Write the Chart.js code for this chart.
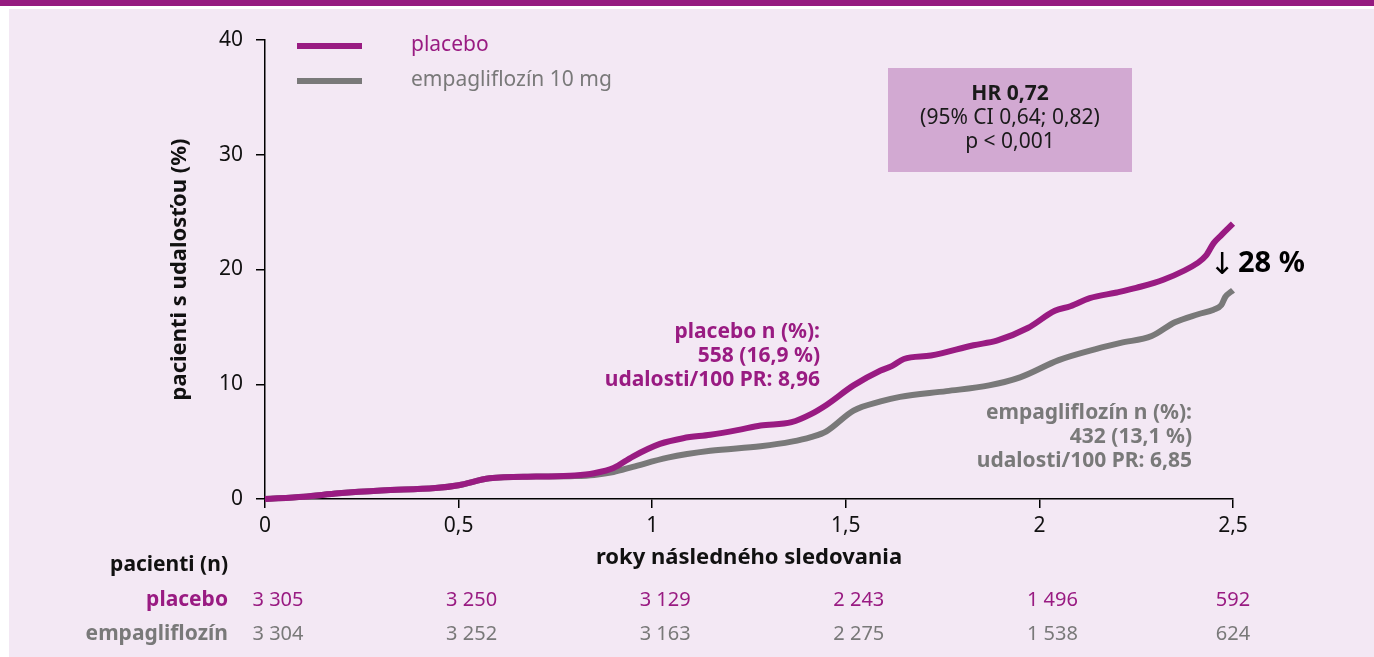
<!DOCTYPE html>
<html>
<head>
<meta charset="utf-8">
<script src="https://cdn.jsdelivr.net/npm/chart.js@4/dist/chart.umd.min.js"></script>
<style>
  html, body { margin: 0; padding: 0; background: #fff; }
  #wrap { position: relative; width: 1374px; height: 657px; overflow: hidden; }
  #topbar { position: absolute; left: 0; top: 0; width: 1374px; height: 6px; background: #961b80; }
  #panel { position: absolute; left: 9px; top: 9px; right: 0; bottom: 0; background: #f3e8f4; }
  #c { position: absolute; left: 0; top: 0; }
</style>
</head>
<body>
<div id="wrap">
  <div id="topbar"></div>
  <div id="panel"></div>
  <canvas id="c" width="1374" height="657"></canvas>
</div>
<script>
// roky sledovania / kumulatívny podiel pacientov s udalosťou (%)
const placeboT = [0, 0.1, 0.19, 0.3, 0.44, 0.5, 0.58, 0.7, 0.8, 0.85, 0.9, 0.95, 1.02, 1.08, 1.15, 1.22, 1.28, 1.36, 1.41, 1.45, 1.52, 1.59, 1.62, 1.65, 1.72, 1.83, 1.89, 1.97, 2.04, 2.08, 2.13, 2.2, 2.25, 2.32, 2.41, 2.43, 2.45, 2.47, 2.5];
const placeboY = [0, 0.2, 0.5, 0.75, 0.95, 1.2, 1.8, 1.95, 2.05, 2.25, 2.7, 3.7, 4.8, 5.3, 5.6, 6.0, 6.4, 6.7, 7.4, 8.2, 9.9, 11.2, 11.6, 12.2, 12.5, 13.4, 13.8, 14.9, 16.4, 16.8, 17.5, 18.0, 18.4, 19.1, 20.6, 21.2, 22.3, 23.0, 24.0];
const empaT = [0, 0.1, 0.19, 0.3, 0.44, 0.5, 0.58, 0.7, 0.8, 0.85, 0.9, 0.95, 1.04, 1.15, 1.28, 1.36, 1.41, 1.45, 1.52, 1.59, 1.64, 1.76, 1.87, 1.95, 2.05, 2.15, 2.21, 2.29, 2.35, 2.41, 2.45, 2.47, 2.48, 2.5];
const empaY = [0, 0.2, 0.5, 0.75, 0.95, 1.2, 1.8, 1.95, 2.0, 2.1, 2.35, 2.8, 3.6, 4.2, 4.6, 5.0, 5.4, 5.9, 7.7, 8.5, 8.9, 9.4, 9.9, 10.6, 12.1, 13.1, 13.6, 14.2, 15.4, 16.1, 16.5, 16.9, 17.6, 18.2];

const xTicks = [0, 0.5, 1, 1.5, 2, 2.5];
const yTicks = [0, 10, 20, 30, 40];

// pacienti v riziku
const riskTimes = [0, 0.5, 1, 1.5, 2, 2.5];
const riskPlacebo = ["3 305", "3 250", "3 129", "2 243", "1 496", "592"];
const riskEmpa = ["3 304", "3 252", "3 163", "2 275", "1 538", "624"];

const PURPLE = "#991b82";
const GRAY = "#797979";
const FONT = "'Noto Sans', 'Open Sans', sans-serif";

Chart.defaults.font.family = FONT;
Chart.defaults.color = "#111";

function toPoints(ts, ys) {
  return ts.map((t, i) => ({ x: t, y: ys[i] }));
}

// texty, legenda, tabuľka rizika
const extras = {
  id: "extras",
  afterDraw(chart) {
    const ctx = chart.ctx;
    const xs = chart.scales.x;
    const area = chart.chartArea;
    ctx.save();

    // legenda
    ctx.lineWidth = 6;
    ctx.strokeStyle = PURPLE;
    ctx.beginPath(); ctx.moveTo(297, 46); ctx.lineTo(362, 46); ctx.stroke();
    ctx.strokeStyle = GRAY;
    ctx.beginPath(); ctx.moveTo(297, 81); ctx.lineTo(362, 81); ctx.stroke();
    ctx.font = "21px " + FONT;
    ctx.textAlign = "left";
    ctx.textBaseline = "middle";
    ctx.fillStyle = PURPLE;
    ctx.fillText("placebo", 411, 45);
    ctx.fillStyle = GRAY;
    ctx.fillText("empagliflozín 10 mg", 411, 80);

    // HR box
    ctx.fillStyle = "#d2a9d2";
    ctx.fillRect(888, 68, 244, 104);
    ctx.fillStyle = "#1a1a1a";
    ctx.textAlign = "center";
    ctx.font = "bold 21px " + FONT;
    ctx.fillText("HR 0,72", 1010, 94);
    ctx.font = "21px " + FONT;
    ctx.fillText("(95% CI 0,64; 0,82)", 1010, 118);
    ctx.fillText("p < 0,001", 1010, 142);

    // 28 %
    ctx.fillStyle = "#000";
    ctx.font = "30px 'DejaVu Sans', sans-serif";
    ctx.fillText("↓", 1222, 266);
    ctx.font = "bold 29px " + FONT;
    ctx.textAlign = "left";
    ctx.fillText("28 %", 1238, 264);

    // popisy kriviek
    ctx.textAlign = "right";
    ctx.font = "bold 21px " + FONT;
    ctx.fillStyle = PURPLE;
    ctx.fillText("placebo n (%):", 820, 332);
    ctx.fillText("558 (16,9 %)", 820, 356);
    ctx.fillText("udalosti/100 PR: 8,96", 820, 380);
    ctx.fillStyle = GRAY;
    ctx.fillText("empagliflozín n (%):", 1192, 413);
    ctx.fillText("432 (13,1 %)", 1192, 437);
    ctx.fillText("udalosti/100 PR: 6,85", 1192, 461);

    // tabuľka pacientov
    ctx.fillStyle = "#111";
    ctx.fillText("pacienti (n)", 228, 565);
    ctx.fillStyle = PURPLE;
    ctx.fillText("placebo", 228, 600);
    ctx.fillStyle = GRAY;
    ctx.fillText("empagliflozín", 228, 634);

    ctx.font = "20px " + FONT;
    ctx.textAlign = "center";
    riskTimes.forEach((t, i) => {
      const px = Math.min(xs.getPixelForValue(t) + 13, area.right);
      ctx.fillStyle = PURPLE;
      ctx.fillText(riskPlacebo[i], px, 600);
      ctx.fillStyle = GRAY;
      ctx.fillText(riskEmpa[i], px, 634);
    });

    ctx.restore();
  },
};

new Chart(document.getElementById("c"), {
  type: "line",
  data: {
    datasets: [
      {
        label: "placebo",
        data: toPoints(placeboT, placeboY),
        borderColor: PURPLE,
        borderWidth: 6,
        pointRadius: 0,
        cubicInterpolationMode: "monotone",
        clip: false,
      },
      {
        label: "empagliflozín 10 mg",
        data: toPoints(empaT, empaY),
        borderColor: GRAY,
        borderWidth: 6,
        pointRadius: 0,
        cubicInterpolationMode: "monotone",
        clip: false,
      },
    ],
  },
  options: {
    responsive: false,
    animation: false,
    events: [],
    layout: { padding: { left: 0, top: 40, right: 141, bottom: 0 } },
    plugins: {
      legend: { display: false },
      tooltip: { enabled: false },
    },
    scales: {
      x: {
        type: "linear",
        min: 0,
        max: 2.5,
        afterFit: (s) => { s.height = 158; },
        afterBuildTicks: (s) => { s.ticks = xTicks.map((v) => ({ value: v })); },
        grid: { drawOnChartArea: false, drawTicks: true, tickLength: 9, color: "#000", lineWidth: 1.5 },
        border: { display: true, color: "#000", width: 1.5 },
        ticks: {
          font: { size: 21 },
          color: "#111",
          padding: 5,
          maxRotation: 0,
          callback: (v) => String(v).replace(".", ","),
        },
        title: {
          display: true,
          text: "roky následného sledovania",
          font: { size: 22, weight: "bold" },
          color: "#111",
          padding: { top: 0, bottom: 86 },
        },
      },
      y: {
        min: 0,
        max: 40,
        afterFit: (s) => { s.width = 265; },
        afterBuildTicks: (s) => { s.ticks = yTicks.map((v) => ({ value: v })); },
        grid: { drawOnChartArea: false, drawTicks: true, tickLength: 9, color: "#000", lineWidth: 1.5 },
        border: { display: true, color: "#000", width: 1.5 },
        ticks: { font: { size: 21 }, color: "#111", padding: 13 },
        title: {
          display: true,
          text: "pacienti s udalosťou (%)",
          font: { size: 22, weight: "bold" },
          color: "#111",
          padding: { top: 167, bottom: 0 },
        },
      },
    },
  },
  plugins: [extras],
});
</script>
</body>
</html>
